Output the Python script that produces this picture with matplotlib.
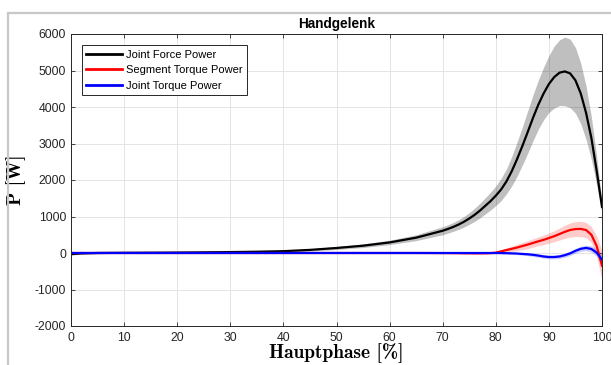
"""Wrist (Handgelenk) power curves over the main phase, mean +/- band."""

import matplotlib

matplotlib.use("Agg")
import matplotlib.pyplot as plt
from matplotlib.patches import Rectangle
import numpy as np

plt.rcParams["font.family"] = ["Liberation Sans", "DejaVu Sans"]
plt.rcParams["axes.unicode_minus"] = False

# Percent of main phase
x_pct = [0, 2, 5, 10, 15, 20, 25, 30, 35, 40, 45, 50, 55, 60, 65,
         70, 71, 72, 73, 74, 75, 76, 77, 78, 79,
         80, 81, 82, 83, 84, 85, 86, 87, 88, 89,
         90, 91, 92, 93, 94, 95, 96, 97, 98, 99, 100]

# Joint Force Power (black)
force_mean = [-30, -10, 0, 5, 8, 12, 18, 25, 35, 50, 85, 137, 200, 290, 420,
              610, 660, 715, 780, 855, 945, 1045, 1160, 1290, 1420,
              1570, 1740, 1960, 2240, 2570, 2930, 3310, 3700, 4060, 4370,
              4630, 4820, 4940, 4975, 4920, 4730, 4370, 3840, 3150, 2250, 1260]
force_sd = [30, 20, 15, 15, 15, 15, 15, 18, 20, 25, 30, 40, 50, 60, 80,
            110, 115, 120, 130, 145, 160, 180, 200, 220, 245,
            270, 305, 340, 400, 470, 520, 580, 630, 670, 720,
            780, 850, 900, 940, 940, 900, 830, 730, 580, 380, 150]

# Segment Torque Power (red)
seg_mean = [0, 0, 0, 0, 0, 0, 0, 0, 0, 0, 0, 0, 0, 0, 0,
            -3, -3, -5, -5, -8, -8, -10, -10, -8, -3,
            10, 45, 80, 115, 150, 190, 230, 275, 320, 360,
            410, 460, 520, 580, 630, 655, 660, 630, 500, 190, -350]
seg_sd = [5, 5, 5, 5, 5, 5, 5, 5, 5, 5, 5, 5, 5, 5, 5,
          8, 8, 10, 10, 12, 12, 15, 15, 18, 22,
          30, 45, 60, 75, 90, 100, 110, 115, 120, 130,
          140, 150, 165, 180, 195, 205, 210, 210, 220, 280, 420]

# Joint Torque Power (blue)
jt_mean = [0, 0, 0, 0, 0, 0, 0, 0, 0, 0, 0, 0, 0, 0, 0,
           0, 0, 0, 0, 0, 0, 0, 0, 0, 0,
           0, -2, -5, -10, -15, -25, -35, -50, -70, -95,
           -110, -110, -95, -60, -10, 60, 115, 140, 110, 10, -180]
jt_sd = [10, 10, 10, 10, 10, 10, 10, 10, 10, 10, 10, 10, 10, 10, 10,
         10, 10, 10, 10, 10, 10, 12, 12, 15, 15,
         18, 19, 20, 25, 30, 35, 40, 43, 45, 48,
         50, 52, 55, 58, 60, 65, 70, 75, 85, 100, 140]

series = [
    ("Joint Force Power", force_mean, force_sd, "#000000", 0.25),
    ("Segment Torque Power", seg_mean, seg_sd, "#ff0000", 0.2),
    ("Joint Torque Power", jt_mean, jt_sd, "#0000ff", 0.2),
]

fig = plt.figure(figsize=(6.11, 3.65), dpi=100)
ax = fig.add_axes([71 / 611, 1 - 326 / 365, 531 / 611, 292 / 365])

# grey window frame like the exported MATLAB figure
fig.patches.append(Rectangle((8 / 611, -0.2), 1.3, 1.2 - 13 / 365, transform=fig.transFigure,
                             fill=False, edgecolor="#c8c8c8", linewidth=1.6, clip_on=False))

x = np.array(x_pct)
for label, mean, sd, color, alpha in series:
    m = np.array(mean)
    s = np.array(sd)
    ax.fill_between(x, m - s, m + s, color=color, alpha=alpha, linewidth=0)
    ax.plot(x, m, color=color, linewidth=1.6, label=label)

ax.set_xlim(0, 100)
ax.set_ylim(-2000, 6000)
ax.set_xticks(np.arange(0, 101, 10))
ax.set_yticks(np.arange(-2000, 6001, 1000))
ax.grid(True, color="#e4e4e4", linewidth=0.7)
ax.set_axisbelow(True)
ax.tick_params(direction="in", length=3, width=0.6, top=True, right=True,
               labelsize=8.8, colors="#262626", pad=3.5)
ax.tick_params(axis="x", pad=4.5)
for sp in ax.spines.values():
    sp.set_color("#262626")
    sp.set_linewidth(0.7)

ax.set_title("Handgelenk", fontsize=9.8, fontweight="bold", pad=4)
ax.set_xlabel("Hauptphase [%]", fontsize=14, family="cmb10")
ax.set_ylabel("P [W]", fontsize=14, family="cmb10")
ax.xaxis.set_label_coords(0.5, -0.06)
ax.yaxis.set_label_coords(-0.085, 0.5)

leg = ax.legend(loc="upper left", bbox_to_anchor=(0.02, 0.962), borderaxespad=0,
                fontsize=8, fancybox=False, framealpha=1, edgecolor="#262626",
                handlelength=3.2, handletextpad=0.4, labelspacing=0.5, borderpad=0.4)
leg.get_frame().set_linewidth(0.7)
for h in leg.get_lines():
    h.set_linewidth(2)

fig.savefig("out.png", dpi=100)
